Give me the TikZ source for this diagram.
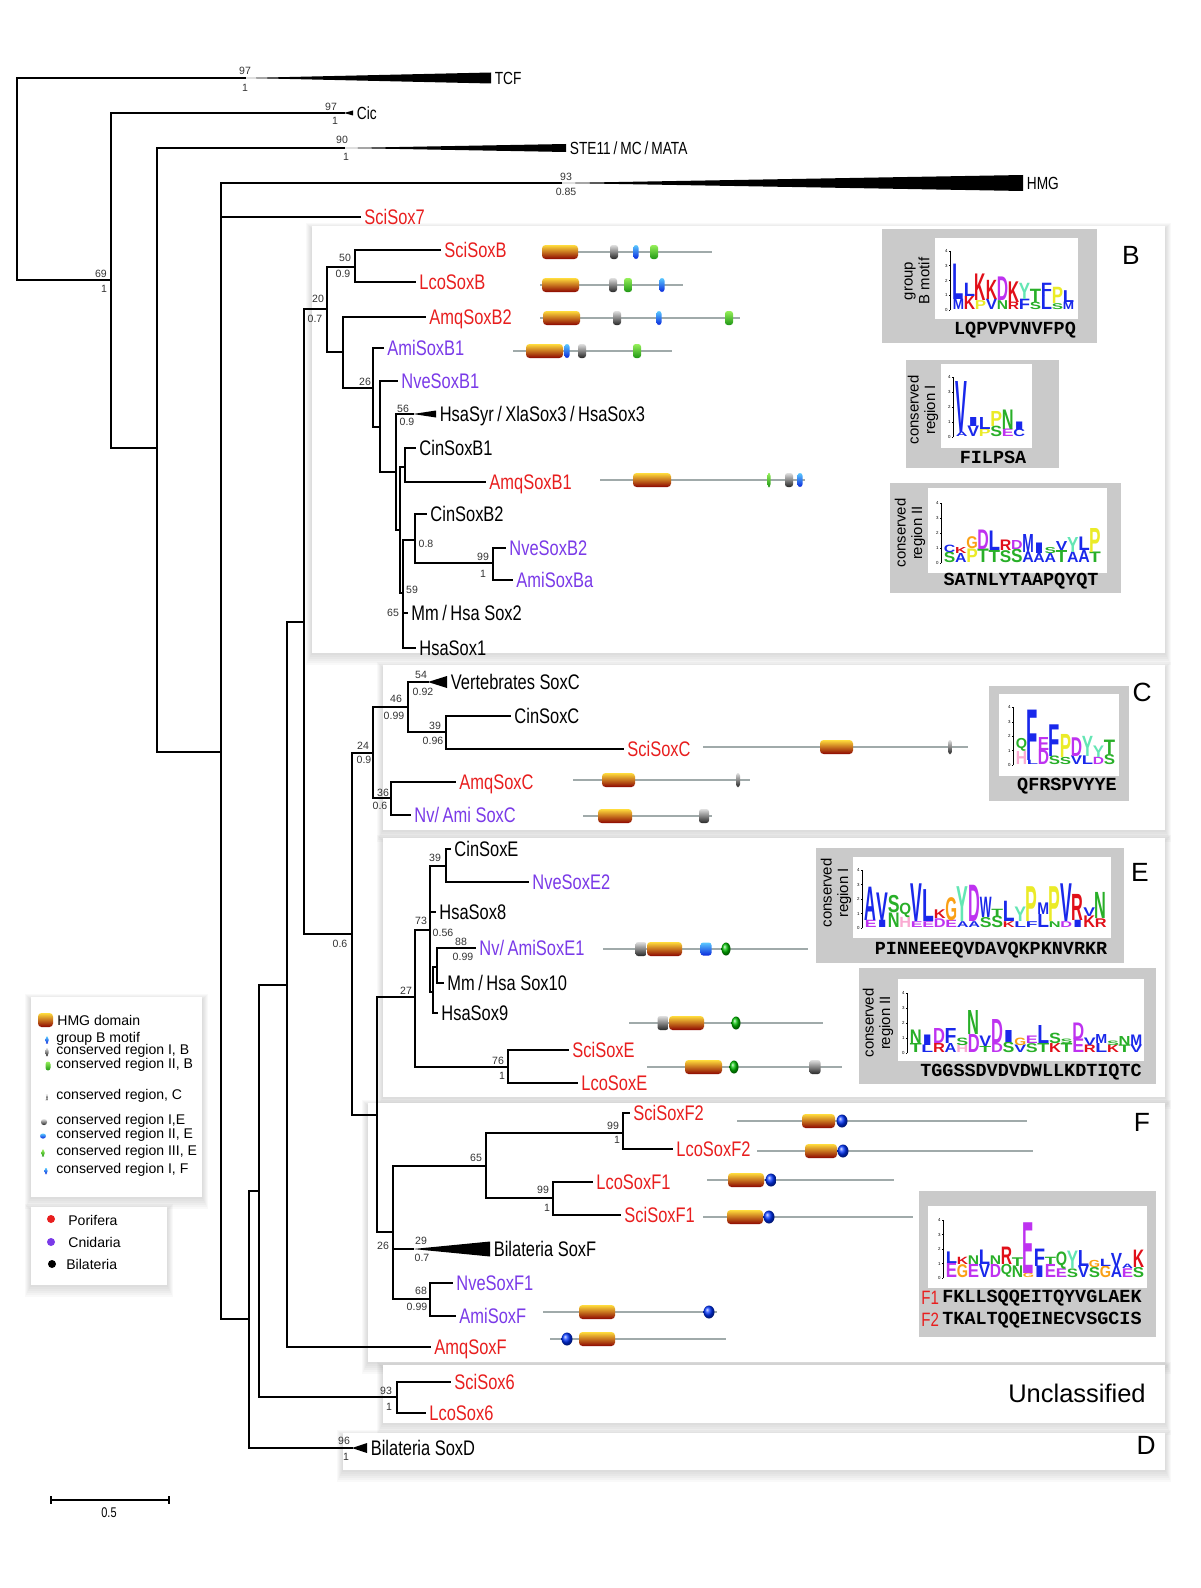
\documentclass[tikz,border=0pt]{standalone}
\usepackage{fontspec}
\usepackage{graphicx}
\setmainfont{Liberation Sans}
\newfontfamily\condfont[FakeStretch=0.78]{Liberation Sans}
\newfontfamily\seqfont{Liberation Mono}

\definecolor{porif}{RGB}{232,30,30}
\definecolor{cnid}{RGB}{122,58,232}
\definecolor{hmgtop}{RGB}{255,220,60}
\definecolor{hmgmid}{RGB}{210,50,5}
\definecolor{hmgbot}{RGB}{140,5,0}
\definecolor{protline}{RGB}{160,170,170}
\definecolor{panelgray}{RGB}{202,202,202}
\definecolor{mgreentop}{RGB}{150,240,90}
\definecolor{mgreenbot}{RGB}{30,150,20}
\definecolor{mbluetop}{RGB}{90,200,255}
\definecolor{mbluebot}{RGB}{10,40,220}
%% logo colours, one per residue class
\definecolor{lgblue}{RGB}{25,40,235}
\definecolor{lgred}{RGB}{225,15,25}
\definecolor{lgpurple}{RGB}{190,50,240}
\definecolor{lggreen}{RGB}{40,175,40}
\definecolor{lgorange}{RGB}{250,160,20}
\definecolor{lgyellow}{RGB}{235,235,40}
\definecolor{lgcyan}{RGB}{100,230,180}
\definecolor{lgpink}{RGB}{250,170,210}
\colorlet{aaA}{lgblue}\colorlet{aaC}{lgblue}\colorlet{aaF}{lgblue}\colorlet{aaI}{lgblue}
\colorlet{aaL}{lgblue}\colorlet{aaM}{lgblue}\colorlet{aaV}{lgblue}\colorlet{aaW}{lgblue}
\colorlet{aaK}{lgred}\colorlet{aaR}{lgred}
\colorlet{aaD}{lgpurple}\colorlet{aaE}{lgpurple}
\colorlet{aaN}{lggreen}\colorlet{aaQ}{lggreen}\colorlet{aaS}{lggreen}\colorlet{aaT}{lggreen}
\colorlet{aaG}{lgorange}\colorlet{aaP}{lgyellow}\colorlet{aaY}{lgcyan}\colorlet{aaH}{lgpink}

%% sequence logo: name, axis x, baseline y, column width, px per bit, columns low/h/up/h
\newcommand\seqlogo[6]{%
  \draw[line width=0.3pt] (#2,#3) -- ++(0,-4*#5);
  \foreach \k in {0,...,4}{%
    \draw[line width=0.3pt] (#2,#3-\k*#5) -- ++(-1.5,0)
      node[left, inner sep=0.4pt, font=\fontsize{2.5}{3}\selectfont] (#1ax\k) {\k};}
  \foreach \ltrA/\hA/\ltrB/\hB [count=\i] in {#6}{%
    \pgfmathsetlengthmacro\lenw{#4*0.0205cm}%
    \pgfmathsetlengthmacro\lenlo{\hA*#5*0.02cm}%
    \pgfmathsetlengthmacro\lenup{\hB*#5*0.02cm}%
    \edef\colA{aa\ltrA}\edef\colB{aa\ltrB}%
    \node[logoltr, text=\colA] (#1lo\i) at ({#2+3+(\i-0.5)*#4},#3) {\resizebox*{\lenw}{\lenlo}{\ltrA}};
    \node[logoltr, text=\colB] (#1up\i) at ({#2+3+(\i-0.5)*#4},{#3-\hA*#5}) {\resizebox*{\lenw}{\lenup}{\ltrB}};
  }}
%% collapsed clade: start, length, half height
\newcommand\collapsed[3]{\fill (#1) -- ++(#2,-#3) -- ++(0,2*#3) -- cycle;}
%% HMG box: x1, x2, y
\newcommand\hmgdom[3]{\shade[hmg] (#1,#3-7) rectangle (#2,#3+7);}
%% small motif: style, x, y, width, height
\newcommand\motif[5]{\shade[#1, rounded corners=1.5pt] (#2-#4/2,#3-#5/2) rectangle (#2+#4/2,#3+#5/2);}
%% white box with a soft shadow: x1, y1, x2, y2
\newcommand\softbox[4]{%
  \foreach \s in {1,...,6}{\fill[black, opacity=0.025] (#1-\s,#2-\s+3) rectangle (#3+\s,#4+2*\s);}
  \fill[white] (#1,#2) rectangle (#3,#4);}

\begin{document}
\begin{tikzpicture}[x=0.02cm, y=-0.02cm,
  tree/.style={line width=1.1pt, line cap=rect},
  leaf/.style={anchor=base west, inner sep=0pt, xshift=2pt, yshift=-4.3pt, font=\condfont\fontsize{12}{14}\selectfont},
  toplab/.style={anchor=base west, inner sep=0pt, xshift=2pt, yshift=-3.6pt, font=\condfont\fontsize{10}{12}\selectfont},
  spongelab/.style={text=porif}, cnidlab/.style={text=cnid},
  bs/.style={inner sep=0pt, font=\fontsize{6}{7}\selectfont, text=black!80},
  prot/.style={draw=protline, line width=0.8pt},
  hmg/.style={top color=hmgtop, middle color=hmgmid, bottom color=hmgbot, rounded corners=2pt},
  mgrey/.style={top color=gray!25, bottom color=black!85},
  mgreen/.style={top color=mgreentop, bottom color=mgreenbot},
  mblue/.style={top color=mbluetop, bottom color=mbluebot},
  panel/.style={fill=panelgray},
  seq/.style={font=\seqfont\bfseries\fontsize{10.5}{12}\selectfont, inner sep=0pt},
  paneltext/.style={rotate=90, align=center, font=\fontsize{8.5}{9.5}\selectfont, inner sep=0pt},
  cladeletter/.style={font=\fontsize{15}{18}\selectfont, inner sep=0pt},
  legtext/.style={anchor=west, inner sep=0pt, font=\fontsize{8}{9}\selectfont},
  logoltr/.style={anchor=south, inner sep=0pt, font=\bfseries},
]
\useasboundingbox (0,0) rectangle (1200,1588);

%% cluster boxes
\softbox{312}{226}{1165}{653}
\softbox{383}{665}{1165}{830}
\softbox{383}{838}{1165}{1097}
\softbox{368}{1103}{1165}{1362}
\softbox{383}{1365}{1165}{1423}
\softbox{343}{1433}{1165}{1470}
\node[cladeletter] (letB) at (1131,255) {B};
\node[cladeletter] (letC) at (1142,692) {C};
\node[cladeletter] (letE) at (1140,872) {E};
\node[cladeletter] (letF) at (1142,1122) {F};
\node[cladeletter] (letD) at (1146,1445) {D};
\node[font=\fontsize{14.5}{17}\selectfont, inner sep=0pt] (uncl) at (1077,1393) {Unclassified};

%% legend
\softbox{31}{997}{202}{1197}
\softbox{31}{1207}{167}{1285}
\hmgdom{38}{53}{1020}
\motif{mblue}{47}{1040}{3}{7}
\motif{mgrey}{47}{1052}{3}{8}
\motif{mgreen}{48}{1066}{5}{9}
\motif{mgrey}{47}{1097}{2}{6}
\motif{mgrey}{44}{1122}{6}{6}
\motif{mblue}{43}{1136}{6}{5}
\motif{mgreen}{43}{1153}{3}{7}
\motif{mblue}{46}{1171}{3}{6}
\node[legtext] (lgHMG) at (57,1020) {HMG domain};
\node[legtext] (lgBm) at (56,1039) {group B motif};
\node[legtext] (lgIB) at (56,1051) {conserved region I, B};
\node[legtext] (lgIIB) at (56,1065) {conserved region II, B};
\node[legtext] (lgC) at (56,1096) {conserved region, C};
\node[legtext] (lgIE) at (56,1121) {conserved region I,E};
\node[legtext] (lgIIE) at (56,1135) {conserved region II, E};
\node[legtext] (lgIIIE) at (56,1152) {conserved region III, E};
\node[legtext] (lgIF) at (56,1170) {conserved region I, F};
\fill[porif] (51,1219) circle[radius=4];
\fill[cnid] (51,1242) circle[radius=4];
\fill[black] (52,1264) circle[radius=4];
\node[legtext] (lgPor) at (68,1220) {Porifera};
\node[legtext] (lgCni) at (68,1242) {Cnidaria};
\node[legtext] (lgBil) at (66,1264) {Bilateria};

%% scale bar
\coordinate (sb0) at (51,1500);
\coordinate (sb1) at (169,1500);
\draw[line width=1pt] (sb0) -- (sb1);
\draw[line width=1pt] (sb0) ++(0,-4) -- ++(0,8) (sb1) ++(0,-4) -- ++(0,8);
\node[font=\condfont\fontsize{8}{9}\selectfont] (sbl) at (109,1513) {0.5};

%% domain structures, group B
\draw[prot] (542,252) -- (712,252); \hmgdom{542}{578}{252}
\motif{mgrey}{614}{252}{8}{14} \motif{mblue}{636}{252}{5}{14} \motif{mgreen}{654}{252}{8}{14}
\draw[prot] (540,285) -- (683,285); \hmgdom{542}{579}{285}
\motif{mgrey}{613}{285}{8}{14} \motif{mgreen}{628}{285}{8}{14} \motif{mblue}{662}{285}{5}{14}
\draw[prot] (540,318) -- (740,318); \hmgdom{543}{580}{318}
\motif{mgrey}{617}{318}{8}{14} \motif{mblue}{659}{318}{5}{14} \motif{mgreen}{729}{318}{8}{14}
\draw[prot] (513,351) -- (672,351); \hmgdom{526}{563}{351}
\motif{mblue}{567}{351}{5}{14} \motif{mgrey}{582}{351}{8}{14} \motif{mgreen}{637}{351}{8}{14}
\draw[prot] (600,480) -- (805,480); \hmgdom{633}{671}{480}
\motif{mgreen}{769}{480}{3}{14} \motif{mgrey}{789}{480}{8}{14} \motif{mblue}{800}{480}{5}{14}
%% group C
\draw[prot] (703,747) -- (968,747); \hmgdom{820}{853}{747} \motif{mgrey}{950}{747}{4}{14}
\draw[prot] (573,780) -- (750,780); \hmgdom{602}{635}{780} \motif{mgrey}{738}{780}{4}{14}
\draw[prot] (583,816) -- (712,816); \hmgdom{598}{632}{816} \motif{mgrey}{704}{816}{10}{14}
%% group E
\draw[prot] (603,949) -- (808,949); \motif{mgrey}{641}{949}{11}{14} \hmgdom{647}{682}{949}
\motif{mblue}{706}{949}{11}{13} \shade[ball color=green!75!black] (726,949) ellipse[x radius=4.5, y radius=6.5];
\draw[prot] (629,1023) -- (823,1023); \motif{mgrey}{663}{1023}{11}{14} \hmgdom{669}{704}{1023}
\shade[ball color=green!75!black] (736,1023) ellipse[x radius=4.5, y radius=6.5];
\draw[prot] (647,1067) -- (842,1067); \hmgdom{685}{722}{1067}
\shade[ball color=green!75!black] (734,1067) ellipse[x radius=4.5, y radius=6.5]; \motif{mgrey}{815}{1067}{11}{14}
%% group F
\draw[prot] (737,1121) -- (1027,1121); \hmgdom{802}{835}{1121} \shade[ball color=blue!80!cyan] (842,1121) ellipse[x radius=5.5, y radius=6.5];
\draw[prot] (757,1151) -- (1033,1151); \hmgdom{805}{837}{1151} \shade[ball color=blue!80!cyan] (843,1151) ellipse[x radius=5.5, y radius=6.5];
\draw[prot] (707,1180) -- (894,1180); \hmgdom{728}{764}{1180} \shade[ball color=blue!80!cyan] (771,1180) ellipse[x radius=5.5, y radius=6.5];
\draw[prot] (703,1217) -- (913,1217); \hmgdom{727}{763}{1217} \shade[ball color=blue!80!cyan] (769,1217) ellipse[x radius=5.5, y radius=6.5];
\draw[prot] (543,1312) -- (717,1312); \hmgdom{579}{615}{1312} \shade[ball color=blue!80!cyan] (709,1312) ellipse[x radius=5.5, y radius=6.5];
\draw[prot] (550,1339) -- (726,1339); \shade[ball color=blue!80!cyan] (567,1339) ellipse[x radius=5.5, y radius=6.5]; \hmgdom{579}{615}{1339}

%% logo panels
\fill[panel] (882,229) rectangle (1097,343); \fill[white] (935,238) rectangle (1078,319);
\node[paneltext] (pB) at (917,281) {group\\B motif};
\node[seq] (sqB) at (1015,330) {LQPVPVNVFPQ};
\seqlogo{gB}{950}{310}{11}{14.75}{M/0.7/L/2.4, K/0.9/L/0.9, P/0.6/K/1.8, V/0.7/K/1.3, N/0.6/D/1.6, R/0.5/K/1.4, F/0.7/Y/1.1, S/0.5/T/0.9, L/0.9/F/0.9, S/0.4/P/1.1, M/0.5/L/0.8}
\fill[panel] (906,360) rectangle (1059,468); \fill[white] (941,364) rectangle (1032,448);
\node[paneltext] (pBI) at (923,410) {conserved\\region I};
\node[seq] (sqBI) at (993,457) {FILPSA};
\seqlogo{gBI}{953}{437}{11.5}{15}{A/0.3/V/3.4, V/0.7/I/0.6, P/0.5/L/0.8, S/0.7/P/1.0, E/0.5/N/1.3, C/0.5/I/0.5}
\fill[panel] (890,483) rectangle (1121,593); \fill[white] (928,488) rectangle (1107,573);
\node[paneltext] (pBII) at (910,533) {conserved\\region II};
\node[seq] (sqBII) at (1021,581) {SATNLYTAAPQYQT};
\seqlogo{gBII}{941}{563}{11.2}{15}{S/0.7/C/0.5, A/0.6/K/0.4, P/0.9/G/0.8, T/0.9/D/1.3, T/0.8/L/1.3, S/0.8/R/0.7, S/0.9/D/0.6, A/0.7/M/1.2, A/0.6/I/0.7, A/0.6/S/0.4, T/0.8/V/0.6, A/0.7/Y/1.0, A/0.8/L/0.9, T/0.7/P/1.6}
\fill[panel] (989,686) rectangle (1129,801); \fill[white] (999,694) rectangle (1119,776);
\node[seq] (sqC) at (1067,786) {QFRSPVYYE};
\seqlogo{gC}{1013}{765}{11}{14.4}{H/0.9/Q/0.9, L/0.3/F/3.5, D/1.0/E/0.9, S/0.6/F/2.2, S/0.5/P/1.6, V/0.6/D/1.3, L/0.6/Y/1.4, D/0.5/Y/0.8, S/0.7/T/1.0}
\fill[panel] (816,848) rectangle (1124,963); \fill[white] (853,857) rectangle (1111,938);
\node[paneltext] (pEI) at (836,893) {conserved\\region I};
\node[seq] (sqEI) at (991,950) {PINNEEEQVDAVQKPKNVRKR};
\seqlogo{gEI}{862}{928}{11.5}{14.5}{E/0.5/A/2.3, I/0.5/V/1.9, N/1.0/S/1.2, H/0.7/Q/1.0, E/0.4/V/2.6, E/0.4/L/2.2, D/0.6/K/0.6, E/0.5/G/1.6, A/0.4/Y/2.4, A/0.4/D/2.5, S/0.7/W/1.4, S/0.8/T/0.5, K/0.4/L/1.4, L/0.4/Y/1.0, F/0.4/P/2.4, L/0.9/M/0.8, N/0.4/P/2.4, D/0.4/V/2.6, I/0.5/R/1.8, K/0.8/V/0.6, R/0.6/N/1.8}
\fill[panel] (859,968) rectangle (1156,1084); \fill[white] (898,979) rectangle (1144,1061);
\node[paneltext] (pEII) at (878,1023) {conserved\\region II};
\node[seq] (sqEII) at (1031,1072) {TGGSSDVDVDWLLKDTIQTC};
\seqlogo{gEII}{907}{1053}{11.6}{15}{T/0.6/N/0.9, L/0.5/I/0.7, R/0.6/D/1.0, A/0.6/F/1.0, H/0.5/S/0.5, D/1.2/N/1.6, T/0.4/V/0.7, D/0.6/D/1.6, S/0.7/I/0.8, V/0.5/G/0.5, S/0.6/E/0.5, T/0.6/L/1.2, K/0.6/S/0.7, T/0.6/S/0.3, E/0.9/D/1.1, R/0.5/V/0.5, L/0.6/M/0.6, K/0.5/S/0.3, T/0.5/N/0.6, V/0.5/M/0.7}
\fill[panel] (919,1191) rectangle (1156,1337); \fill[white] (928,1206) rectangle (1147,1288);
\seqlogo{gF}{943}{1278}{11}{14.5}{E/1.0/L/0.8, G/0.9/K/0.5, E/0.9/N/0.6, V/0.9/L/1.0, D/0.9/N/0.6, Q/0.9/R/1.2, N/0.8/T/0.6, G/0.3/E/3.5, I/0.8/F/1.2, E/0.9/T/0.5, E/0.6/Q/1.2, S/0.6/Y/1.2, V/0.8/L/1.1, S/0.7/G/0.5, G/0.8/L/0.5, A/0.8/V/0.9, E/0.6/A/0.3, S/0.7/K/1.2}
\node[anchor=west, inner sep=0pt, text=porif, font=\condfont\fontsize{11}{12}\selectfont] (fOne) at (921,1298) {F1};
\node[seq, anchor=west] (sqF1) at (942,1298) {FKLLSQQEITQYVGLAEK};
\node[anchor=west, inner sep=0pt, text=porif, font=\condfont\fontsize{11}{12}\selectfont] (fTwo) at (921,1320) {F2};
\node[seq, anchor=west] (sqF2) at (942,1320) {TKALTQQEINECVSGCIS};

%% tree: internal nodes (x of the node, y where the parent joins)
\coordinate (r0) at (17,180);
\coordinate (n1) at (111,280);
\coordinate (n2) at (157,448);
\coordinate (n3) at (221,752);
\coordinate (n4) at (249,1319);
\coordinate (n5) at (259,1191);
\coordinate (n6) at (287,985);
\coordinate (n7) at (304,622);
\coordinate (n8) at (352,934);
\coordinate (n9) at (377,1115);
\coordinate (nB) at (327,309);
\coordinate (n50) at (355,267);
\coordinate (nB2) at (343,352);
\coordinate (n26) at (373,388);
\coordinate (n26b) at (380,427);
\coordinate (n56) at (396,472);
\coordinate (nb3) at (400,530);
\coordinate (nCin) at (405,467);
\coordinate (n59) at (403,593);
\coordinate (n08) at (415,540);
\coordinate (n99) at (493,563);
\coordinate (nC) at (373,753);
\coordinate (n46) at (408,707);
\coordinate (n39) at (446,732);
\coordinate (n36) at (391,798);
\coordinate (nE) at (415,997);
\coordinate (n73) at (430,930);
\coordinate (n39e) at (446,866);
\coordinate (nb9) at (433,992);
\coordinate (n88) at (437,967);
\coordinate (nSE) at (508,1067);
\coordinate (nF) at (393,1232);
\coordinate (n65) at (486,1166);
\coordinate (n99a) at (623,1133);
\coordinate (n99b) at (553,1198);
\coordinate (n68) at (430,1299);
\coordinate (n93) at (397,1397);

%% collapsed clades (start of the wedge)
\coordinate (sTCF) at (245,78);
\coordinate (sCic) at (344,113);
\coordinate (sSTE) at (344,148);
\coordinate (sHMG) at (561,183);
\coordinate (sSyr) at (413,414);
\coordinate (sVC) at (428,682);
\coordinate (sBF) at (413,1249);
\coordinate (sBD) at (352,1448);

%% backbone
\draw[tree] (r0) |- (sTCF) (r0) |- (n1);
\draw[tree] (n1) |- (sCic) (n1) |- (n2);
\draw[tree] (n2) |- (sSTE) (n2) |- (n3);
\draw[tree] (n3) |- (sHMG) (n3) |- (n4);
\draw[tree] (n4) |- (n5) (n4) |- (sBD);
\draw[tree] (n5) |- (n6) (n5) |- (n93);
\draw[tree] (n6) |- (n7);
\draw[tree] (n7) |- (nB) (n7) |- (n8);
\draw[tree] (n8) |- (nC) (n8) |- (n9);
\draw[tree] (n9) |- (nE) (n9) |- (nF);
%% inside the clades
\draw[tree] (nB) |- (n50) (nB) |- (nB2);
\draw[tree] (nB2) |- (n26);
\draw[tree] (n26) |- (n26b);
\draw[tree] (n26b) |- (n56);
\draw[tree] (n56) |- (sSyr) (n56) |- (nb3);
\draw[tree] (nb3) |- (nCin) (nb3) |- (n59);
\draw[tree] (n59) |- (n08);
\draw[tree] (n08) |- (n99);
\draw[tree] (nC) |- (n46) (nC) |- (n36);
\draw[tree] (n46) |- (sVC) (n46) |- (n39);
\draw[tree] (nE) |- (n73) (nE) |- (nSE);
\draw[tree] (n73) |- (n39e) (n73) |- (nb9);
\draw[tree] (nb9) |- (n88);
\draw[tree] (nF) |- (n65) (nF) |- (sBF) (nF) |- (n68);
\draw[tree] (n65) |- (n99a) (n65) |- (n99b);
\collapsed{sTCF}{246}{5.5}
\collapsed{sCic}{9}{2.5}
\collapsed{sSTE}{222}{4}
\collapsed{sHMG}{462}{8}
\collapsed{sSyr}{23}{3.5}
\collapsed{sVC}{19}{6}
\collapsed{sBF}{77}{7.5}
\collapsed{sBD}{15}{5}

%% tips
\coordinate (tTCF) at (491,78);
\coordinate (tCic) at (353,113);
\coordinate (tSTE) at (566,148);
\coordinate (tHMG) at (1023,183);
\coordinate (tSciSox7) at (360,217);
\coordinate (tSciSoxB) at (440,250);
\coordinate (tLcoSoxB) at (415,282);
\coordinate (tAmqSoxB2) at (425,317);
\coordinate (tAmiSoxB1) at (383,348);
\coordinate (tNveSoxB1) at (397,381);
\coordinate (tSyr) at (436,414);
\coordinate (tCinSoxB1) at (415,448);
\coordinate (tAmqSoxB1) at (485,482);
\coordinate (tCinSoxB2) at (426,514);
\coordinate (tNveSoxB2) at (505,548);
\coordinate (tAmiSoxBa) at (512,580);
\coordinate (tMmSox2) at (407,613);
\coordinate (tHsaSox1) at (415,648);
\coordinate (tVC) at (447,682);
\coordinate (tCinSoxC) at (510,716);
\coordinate (tSciSoxC) at (623,749);
\coordinate (tAmqSoxC) at (455,782);
\coordinate (tNvSoxC) at (410,815);
\coordinate (tCinSoxE) at (450,849);
\coordinate (tNveSoxE2) at (528,882);
\coordinate (tHsaSox8) at (435,912);
\coordinate (tNvSoxE1) at (475,948);
\coordinate (tMmSox10) at (443,983);
\coordinate (tHsaSox9) at (437,1013);
\coordinate (tSciSoxE) at (568,1050);
\coordinate (tLcoSoxE) at (577,1083);
\coordinate (tSciSoxF2) at (629,1113);
\coordinate (tLcoSoxF2) at (672,1149);
\coordinate (tLcoSoxF1) at (592,1182);
\coordinate (tSciSoxF1) at (620,1215);
\coordinate (tBF) at (490,1249);
\coordinate (tNveSoxF1) at (452,1283);
\coordinate (tAmiSoxF) at (455,1316);
\coordinate (tAmqSoxF) at (430,1347);
\coordinate (tSciSox6) at (450,1382);
\coordinate (tLcoSox6) at (425,1413);
\coordinate (tBD) at (367,1448);

%% outgroups
\node[toplab] (TCF) at (tTCF) {TCF};
\node[toplab] (Cic) at (tCic) {Cic};
\node[toplab] (STE) at (tSTE) {STE11\,/\,MC\,/\,MATA};
\node[toplab] (HMG) at (tHMG) {HMG};
\draw[tree] (n3) |- (tSciSox7) node[leaf, spongelab] (SciSox7) {SciSox7};
%% group B
\draw[tree] (n50) |- (tSciSoxB) node[leaf, spongelab] (SciSoxB) {SciSoxB};
\draw[tree] (n50) |- (tLcoSoxB) node[leaf, spongelab] (LcoSoxB) {LcoSoxB};
\draw[tree] (nB2) |- (tAmqSoxB2) node[leaf, spongelab] (AmqSoxB2) {AmqSoxB2};
\draw[tree] (n26) |- (tAmiSoxB1) node[leaf, cnidlab] (AmiSoxB1) {AmiSoxB1};
\draw[tree] (n26b) |- (tNveSoxB1) node[leaf, cnidlab] (NveSoxB1) {NveSoxB1};
\node[leaf] (Syr) at (tSyr) {HsaSyr\,/\,XlaSox3\,/\,HsaSox3};
\draw[tree] (nCin) |- (tCinSoxB1) node[leaf] (CinSoxB1) {CinSoxB1};
\draw[tree] (nCin) |- (tAmqSoxB1) node[leaf, spongelab] (AmqSoxB1) {AmqSoxB1};
\draw[tree] (n08) |- (tCinSoxB2) node[leaf] (CinSoxB2) {CinSoxB2};
\draw[tree] (n99) |- (tNveSoxB2) node[leaf, cnidlab] (NveSoxB2) {NveSoxB2};
\draw[tree] (n99) |- (tAmiSoxBa) node[leaf, cnidlab] (AmiSoxBa) {AmiSoxBa};
\draw[tree] (n59) |- (tMmSox2) node[leaf] (MmSox2) {Mm\,/\,Hsa Sox2};
\draw[tree] (n59) |- (tHsaSox1) node[leaf] (HsaSox1) {HsaSox1};
%% group C
\node[leaf] (VC) at (tVC) {Vertebrates SoxC};
\draw[tree] (n39) |- (tCinSoxC) node[leaf] (CinSoxC) {CinSoxC};
\draw[tree] (n39) |- (tSciSoxC) node[leaf, spongelab] (SciSoxC) {SciSoxC};
\draw[tree] (n36) |- (tAmqSoxC) node[leaf, spongelab] (AmqSoxC) {AmqSoxC};
\draw[tree] (n36) |- (tNvSoxC) node[leaf, cnidlab] (NvSoxC) {Nv/\,Ami SoxC};
%% group E
\draw[tree] (n39e) |- (tCinSoxE) node[leaf] (CinSoxE) {CinSoxE};
\draw[tree] (n39e) |- (tNveSoxE2) node[leaf, cnidlab] (NveSoxE2) {NveSoxE2};
\draw[tree] (n73) |- (tHsaSox8) node[leaf] (HsaSox8) {HsaSox8};
\draw[tree] (n88) |- (tNvSoxE1) node[leaf, cnidlab] (NvSoxE1) {Nv/\,AmiSoxE1};
\draw[tree] (n88) |- (tMmSox10) node[leaf] (MmSox10) {Mm\,/\,Hsa Sox10};
\draw[tree] (nb9) |- (tHsaSox9) node[leaf] (HsaSox9) {HsaSox9};
\draw[tree] (nSE) |- (tSciSoxE) node[leaf, spongelab] (SciSoxE) {SciSoxE};
\draw[tree] (nSE) |- (tLcoSoxE) node[leaf, spongelab] (LcoSoxE) {LcoSoxE};
%% group F
\draw[tree] (n99a) |- (tSciSoxF2) node[leaf, spongelab] (SciSoxF2) {SciSoxF2};
\draw[tree] (n99a) |- (tLcoSoxF2) node[leaf, spongelab] (LcoSoxF2) {LcoSoxF2};
\draw[tree] (n99b) |- (tLcoSoxF1) node[leaf, spongelab] (LcoSoxF1) {LcoSoxF1};
\draw[tree] (n99b) |- (tSciSoxF1) node[leaf, spongelab] (SciSoxF1) {SciSoxF1};
\node[leaf] (BF) at (tBF) {Bilateria SoxF};
\draw[tree] (n68) |- (tNveSoxF1) node[leaf, cnidlab] (NveSoxF1) {NveSoxF1};
\draw[tree] (n68) |- (tAmiSoxF) node[leaf, cnidlab] (AmiSoxF) {AmiSoxF};
\draw[tree] (n6) |- (tAmqSoxF) node[leaf, spongelab] (AmqSoxF) {AmqSoxF};
%% unclassified and D
\draw[tree] (n93) |- (tSciSox6) node[leaf, spongelab] (SciSox6) {SciSox6};
\draw[tree] (n93) |- (tLcoSox6) node[leaf, spongelab] (LcoSox6) {LcoSox6};
\node[leaf] (BD) at (tBD) {Bilateria SoxD};

%% support values
\foreach \x/\y/\t [count=\i] in {245/71/97, 245/88/1, 331/107/97, 335/121/1, 342/140/90, 346/157/1,
  566/177/93, 566/192/0.85, 101/274/69, 104/289/1, 345/258/50, 343/274/0.9, 318/299/20, 315/319/0.7,
  365/382/26, 403/409/56, 407/422/0.9, 426/544/0.8, 483/557/99, 483/574/1, 412/590/59, 393/613/65,
  340/944/0.6, 363/746/24, 364/760/0.9, 396/699/46, 394/716/0.99, 421/675/54, 423/692/0.92,
  435/726/39, 433/741/0.96, 383/793/36, 380/806/0.6, 406/991/27, 421/921/73, 443/933/0.56,
  435/858/39, 461/942/88, 463/957/0.99, 498/1061/76, 502/1076/1, 383/1246/26, 421/1241/29,
  422/1258/0.7, 476/1158/65, 613/1126/99, 617/1140/1, 543/1190/99, 547/1208/1, 421/1291/68,
  417/1307/0.99, 386/1391/93, 389/1407/1, 344/1441/96, 346/1457/1}
  \node[bs] (bs\i) at (\x,\y) {\t};
\end{tikzpicture}
\end{document}
